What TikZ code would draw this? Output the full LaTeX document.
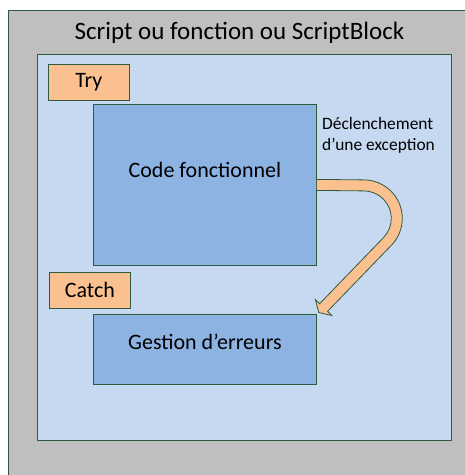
\documentclass[tikz,border=0pt]{standalone}
\usepackage{fontspec}
\setmainfont{Carlito}
\usetikzlibrary{calc}
\definecolor{frame}{HTML}{2E5B3E}
\definecolor{outergray}{HTML}{BFBFBF}
\definecolor{paleblue}{HTML}{C6D9F1}
\definecolor{midblue}{HTML}{8DB3E2}
\definecolor{peach}{HTML}{FAC090}
\tikzset{
  x=1pt, y=1pt,
  panel/.style={draw=frame, line width=0.8pt, inner sep=0pt, anchor=north west},
  tagbox/.style={panel, fill=peach, minimum width=81pt, minimum height=36pt,
    font=\fontsize{22}{26}\selectfont},
  blockbox/.style={panel, fill=midblue, minimum width=223pt},
  bodytext/.style={font=\fontsize{22}{26}\selectfont, inner sep=0pt},
}
\begin{document}
\begin{tikzpicture}
\useasboundingbox (0,0) rectangle (465,-475);
\clip (0,0) rectangle (465,-475);

% outer container and its inner area
\node[panel, fill=outergray, minimum width=470pt, minimum height=480pt] (outer) at (8,-10) {};
\node[font=\fontsize{25}{30}\selectfont, inner sep=0pt] (title) at (239.5,-33) {Script ou fonction ou ScriptBlock};
\node[panel, fill=paleblue, minimum width=414pt, minimum height=386pt] (inner) at (37,-54) {};

% try block
\node[tagbox] (try) at (48,-64) {Try};
\node[blockbox, minimum height=161pt] (code) at (93,-104) {};
\node[bodytext] (codetext) at ($(code.north)+(0,-66)$) {Code fonctionnel};

% catch block
\node[tagbox] (catch) at (49,-272) {Catch};
\node[blockbox, minimum height=70pt] (err) at (93,-314) {};
\node[bodytext] (errtext) at ($(err.north)+(0,-28)$) {Gestion d’erreurs};

% label of the jump
\node[font=\fontsize{17.4}{21}\selectfont, align=left, inner sep=0pt, anchor=west] (jump) at (322,-135) {Déclenchement\\d’une exception};

% curved block arrow from the code block down to the error handler
\coordinate (c) at ($(code.east)+(47,-33.5)$);
\coordinate (E) at ($(c)+(-44:33)$);
\coordinate (B) at ($(E)+(226:92)$);
\coordinate (T) at ($(B)+(226:7)$);
\draw[frame, fill=peach, line width=0.8pt, line join=miter]
  ($(code.east)+(0,5.5)$) -- ($(c)+(0,38.5)$)
  arc[start angle=90, end angle=-44, radius=38.5]
  -- ($(B)+(316:5.5)$) -- ($(B)+(316:11.5)$) -- (T)
  -- ($(B)+(136:11.5)$) -- ($(B)+(136:5.5)$)
  -- ($(c)+(-44:27.5)$)
  arc[start angle=-44, end angle=90, radius=27.5]
  -- ($(code.east)+(0,-5.5)$);
\end{tikzpicture}
\end{document}
